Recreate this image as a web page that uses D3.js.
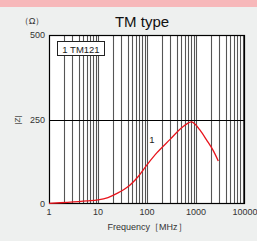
<!DOCTYPE html>
<html><head><meta charset="utf-8">
<script src="https://cdn.jsdelivr.net/npm/d3@7"></script>
<style>
html,body{margin:0;padding:0;background:#eef0ef;}
svg{display:block;font-family:"Liberation Sans",Arial,sans-serif;}
</style></head>
<body><svg id="c" width="257" height="241"></svg>
<script>
const freqs = [1, 2.4, 6, 10, 16, 25, 40, 65, 100, 160, 300, 470, 650, 800, 950, 1200, 1650, 2250, 2850];
const impedance = [2, 5, 9, 12, 19, 32, 50, 80, 116, 152, 192, 221, 237, 243, 237, 219, 189, 158, 127];
const xTicks = [1, 10, 100, 1000, 10000];
const yTicks = [0, 250, 500];
const seriesName = "1 TM121";
const title = "TM type";

const svg = d3.select("#c");
svg.append("rect").attr("x",0).attr("y",0).attr("width",257).attr("height",7).attr("fill","#f7b8ba");

const m = {l:49, r:245, t:35, b:204};
const x = d3.scaleLog().domain([1,10000]).range([m.l, m.r]);
const y = d3.scaleLinear().domain([0,500]).range([m.b, m.t]);

svg.append("rect").attr("x",m.l).attr("y",m.t).attr("width",m.r-m.l).attr("height",m.b-m.t).attr("fill","#fff");

const minor = [];
for (let d=1; d<10000; d*=10) for (let k=2;k<=9;k++) minor.push(d*k);
const majors = [10,100,1000];
svg.append("g").selectAll("line").data(minor.concat(majors)).join("line")
  .attr("x1",d=>Math.round(x(d))+0.5).attr("x2",d=>Math.round(x(d))+0.5)
  .attr("y1",m.t).attr("y2",m.b).attr("stroke","#555").attr("stroke-width",1.1);

svg.append("line").attr("x1",m.l).attr("x2",m.r).attr("y1",Math.round(y(250))+0.5).attr("y2",Math.round(y(250))+0.5).attr("stroke","#000");

svg.append("rect").attr("x",m.l+0.5).attr("y",m.t+0.5).attr("width",m.r-m.l-1).attr("height",m.b-m.t-1).attr("fill","none").attr("stroke","#000").attr("stroke-width",1.2);

const line = d3.line().x((d,i)=>x(freqs[i])).y(d=>y(d)).curve(d3.curveCatmullRom.alpha(0.5));
svg.append("path").attr("d",line(impedance)).attr("fill","none").attr("stroke","#e8141c").attr("stroke-width",1.3);

svg.append("rect").attr("x",57.5).attr("y",41.5).attr("width",47).attr("height",14).attr("fill","#fff").attr("stroke","#222");
svg.append("text").attr("x",81).attr("y",52.5).attr("text-anchor","middle").attr("font-size",9.5).attr("fill","#222").text(seriesName);

svg.append("text").attr("x",152).attr("y",143).attr("text-anchor","middle").attr("font-size",9.5).attr("fill","#222").text("1");

svg.append("g").selectAll("text").data(yTicks).join("text")
  .attr("x",45).attr("y",d=>y(d)+3).attr("text-anchor","end").attr("font-size",9).attr("fill","#333").text(d=>d);
svg.append("g").selectAll("text").data(xTicks).join("text")
  .attr("x",d=>x(d)).attr("y",215).attr("text-anchor","middle").attr("font-size",9).attr("fill","#333").text(d=>d);

svg.append("text").attr("x",147).attr("y",230).attr("text-anchor","middle").attr("font-size",9).attr("fill","#333").text("Frequency［MHz］");
svg.append("text").attr("transform","translate(20,120) rotate(-90)").attr("text-anchor","middle").attr("font-size",8).attr("fill","#333").text("|Z|");
svg.append("text").attr("x",32).attr("y",24).attr("text-anchor","middle").attr("font-size",9).attr("fill","#333").text("（Ω）");
svg.append("text").attr("x",142).attr("y",27).attr("text-anchor","middle").attr("font-size",15).attr("fill","#111").text(title);
</script></body></html>
